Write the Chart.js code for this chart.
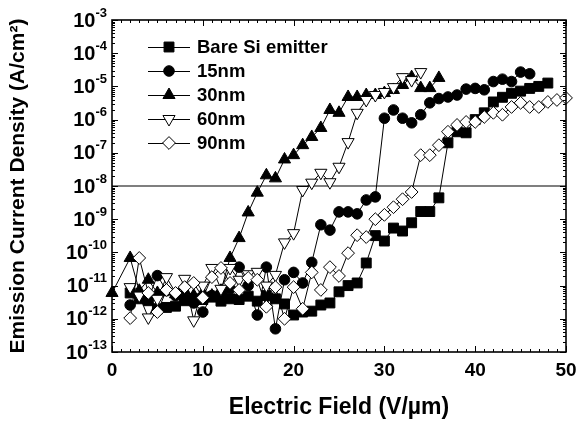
<!DOCTYPE html>
<html><head><meta charset="utf-8">
<script src="https://cdn.jsdelivr.net/npm/chart.js@4/dist/chart.umd.min.js"></script>
<style>html,body{margin:0;padding:0;background:#fff}#wrap{width:584px;height:424px;position:relative}</style>
</head><body><div id="wrap"><canvas id="c" width="584" height="424"></canvas></div>
<script>
const seriesNames = ['Bare Si emitter', '15nm', '30nm', '60nm', '90nm'];

const bareX = [2,3,4,5,6,7,8,9,10,11,12,13,14,15,16,17,18,19,20,21,22,23,24,25,26,27,28,29,30,31,32,33,34,35,36,37,38,39,40,41,42,43,44,45,46,47,48];
const bareY = [6e-12,4e-12,3.5e-12,2e-12,2.2e-12,2.4e-12,3.5e-12,4e-12,3.8e-12,4.5e-12,3.4e-12,4e-12,3.8e-12,4.8e-12,3.4e-12,5e-12,4e-12,2.8e-12,1.3e-12,1.6e-12,1.7e-12,2.6e-12,3e-12,6.5e-12,1e-11,1.2e-11,4.8e-11,3.2e-10,2.2e-10,5.4e-10,4.4e-10,7.8e-10,1.7e-9,1.7e-9,4.4e-9,2e-7,4.3e-7,4e-7,1e-6,1.6e-6,3.4e-6,4.7e-6,6.2e-6,7.2e-6,8.7e-6,1e-5,1.26e-5];

const nm15X = [2,3,4,5,6,7,8,9,10,11,12,13,14,15,16,17,18,19,20,21,22,23,24,25,26,27,28,29,30,31,32,33,34,35,36,37,38,39,40,41,42,43,44,45,46];
const nm15Y = [2.6e-12,5e-12,4e-12,2e-11,7e-12,5e-12,4e-12,3e-12,1.6e-12,5e-12,6e-12,8e-12,3.6e-11,1e-11,1.3e-12,3.6e-11,5e-13,1.5e-11,2.5e-11,1.2e-11,5e-11,6.8e-10,4.7e-10,1.66e-9,1.66e-9,1.45e-9,3.8e-9,4.7e-9,1.1e-6,1.95e-6,1.1e-6,8e-7,1.4e-6,3.2e-6,4.3e-6,4.8e-6,5.5e-6,8.3e-6,8.7e-6,7.9e-6,1.4e-5,1.65e-5,1.4e-5,2.7e-5,2.4e-5];

const nm30X = [0,2,3,4,5,6,7,8,9,10,11,12,13,14,15,16,17,18,19,20,21,22,23,24,25,26,27,28,29,30,31,32,33,34,35,36];
const nm30Y = [6e-12,6.8e-11,7e-12,1.5e-11,6e-12,7e-12,5.5e-12,7e-12,5e-12,6e-12,5e-12,7e-12,6.8e-11,2.7e-10,1.6e-9,6.3e-9,2.1e-8,1.7e-8,6.3e-8,8.5e-8,1.7e-7,3e-7,5.6e-7,1.95e-6,1.6e-6,4.8e-6,4.8e-6,5.5e-6,5.5e-6,6.3e-6,7.8e-6,1.1e-5,1.9e-5,8.9e-6,8.9e-6,1.8e-5];

const nm60X = [2,3,4,5,6,7,8,9,10,11,12,13,14,15,16,17,18,19,20,21,22,23,24,25,26,27,28,29,30,31,32,33,34];
const nm60Y = [9e-12,5e-12,1.1e-12,4e-12,1.8e-11,6e-12,1.6e-11,9e-13,1e-11,3.4e-11,8e-12,3.4e-11,1.5e-11,2.2e-11,2.6e-11,1e-11,2.1e-11,2e-10,3.8e-10,7.6e-9,1.26e-8,2.5e-8,1.3e-8,3.8e-8,2.1e-7,1.6e-6,3.9e-6,5.5e-6,6.8e-6,9.5e-6,1.9e-5,1.55e-5,2.7e-5];

const nm90X = [2,3,4,5,6,7,8,9,10,11,12,13,14,15,16,17,18,19,20,21,22,23,24,25,26,27,28,29,30,31,32,33,34,35,36,37,38,39,40,41,42,43,44,45,46,47,48,49,50];
const nm90Y = [1.05e-12,6.8e-11,6e-12,1.6e-12,7.4e-12,6e-12,9e-12,1.2e-11,4.3e-12,1.8e-11,3.4e-11,1.2e-11,7.4e-12,1.7e-11,1.5e-11,2.3e-12,9e-12,1e-12,9e-12,2e-12,2.5e-11,7.4e-12,3.6e-11,1.95e-11,9.5e-11,3.3e-10,2.9e-10,1e-9,1.35e-9,2.3e-9,4e-9,6.6e-9,8.5e-8,8.5e-8,1.7e-7,4.3e-7,6.9e-7,8.5e-7,8.5e-7,1.2e-6,1.6e-6,1.4e-6,2.4e-6,3.2e-6,2.4e-6,2.4e-6,3.4e-6,3.9e-6,4.5e-6];

const xTickLabels = [0, 10, 20, 30, 40, 50];
const yTickExps = [-3, -4, -5, -6, -7, -8, -9, -10, -11, -12, -13];
const refLineY = 1e-8;

const FONT = "'Liberation Sans', Arial, Helvetica, sans-serif";

function pts(xs, ys) { return xs.map((x, i) => ({ x: x, y: ys[i] })); }

const styles = [
  { pointStyle: 'rect', radius: 7, rotation: 0, fill: '#000' },
  { pointStyle: 'circle', radius: 5.3, rotation: 0, fill: '#000' },
  { pointStyle: 'triangle', radius: 7, rotation: 0, fill: '#000' },
  { pointStyle: 'triangle', radius: 7, rotation: 180, fill: '#fff' },
  { pointStyle: 'rectRot', radius: 6.4, rotation: 0, fill: '#fff' }
];
const seriesData = [pts(bareX, bareY), pts(nm15X, nm15Y), pts(nm30X, nm30Y), pts(nm60X, nm60Y), pts(nm90X, nm90Y)];

const datasets = seriesNames.map((name, i) => ({
  label: name,
  data: seriesData[i],
  showLine: true,
  borderColor: '#000',
  borderWidth: 1,
  pointStyle: styles[i].pointStyle,
  pointRadius: styles[i].radius,
  pointRotation: styles[i].rotation,
  pointBackgroundColor: styles[i].fill,
  pointBorderColor: '#000',
  pointBorderWidth: 1,
  clip: false,
  order: 5 - i
}));
datasets.push({
  label: 'ref',
  data: [{ x: 0, y: refLineY }, { x: 50, y: refLineY }],
  showLine: true,
  borderColor: '#000',
  borderWidth: 1.2,
  pointRadius: 0,
  order: 10
});

function drawMarker(ctx, st, x, y) {
  ctx.save();
  ctx.fillStyle = st.fill;
  ctx.strokeStyle = '#000';
  ctx.lineWidth = 1;
  if (Chart.helpers && Chart.helpers.drawPoint) {
    Chart.helpers.drawPoint(ctx, { pointStyle: st.pointStyle, radius: st.radius, rotation: st.rotation, borderWidth: 1 }, x, y);
  }
  ctx.restore();
}

const framePlugin = {
  id: 'frame',
  afterDraw(chart) {
    const ctx = chart.ctx;
    const a = chart.chartArea;
    const xs = chart.scales.x, ys = chart.scales.y;
    ctx.save();
    ctx.strokeStyle = '#000';
    ctx.lineWidth = 1;
    ctx.beginPath();
    for (let v = 0; v <= 50; v++) {
      const px = Math.round(xs.getPixelForValue(v)) + 0.5;
      const len = (v % 10 === 0) ? 6 : 3;
      ctx.moveTo(px, a.bottom); ctx.lineTo(px, a.bottom - len);
      ctx.moveTo(px, a.top); ctx.lineTo(px, a.top + len);
    }
    for (let e = -13; e <= -3; e++) {
      for (let m = 1; m <= 9; m++) {
        if (e === -3 && m > 1) break;
        const py = Math.round(ys.getPixelForValue(m * Math.pow(10, e))) + 0.5;
        const len = (m === 1) ? 6 : 3;
        ctx.moveTo(a.left, py); ctx.lineTo(a.left + len, py);
        ctx.moveTo(a.right, py); ctx.lineTo(a.right - len, py);
      }
    }
    ctx.stroke();
    ctx.lineWidth = 1.6;
    ctx.strokeRect(a.left, a.top, a.right - a.left, a.bottom - a.top);
    ctx.fillStyle = '#000';
    ctx.textBaseline = 'middle';
    const rightEdge = a.left - 5;
    yTickExps.forEach(e => {
      const py = ys.getPixelForValue(Math.pow(10, e));
      const expStr = String(e);
      ctx.font = 'bold 13px ' + FONT;
      ctx.textAlign = 'right';
      const ew = ctx.measureText(expStr).width;
      ctx.fillText(expStr, rightEdge, py - 7);
      ctx.font = 'bold 20px ' + FONT;
      ctx.fillText('10', rightEdge - ew, py + 1);
    });
    const lx0 = 148, lx1 = 190, mx = 169, tx = 197;
    const rows = [47, 71, 95, 119, 143];
    seriesNames.forEach((name, i) => {
      const y = rows[i];
      ctx.lineWidth = 1;
      ctx.strokeStyle = '#000';
      ctx.beginPath();
      ctx.moveTo(lx0, y + 0.5); ctx.lineTo(lx1, y + 0.5);
      ctx.stroke();
      drawMarker(ctx, styles[i], mx, y);
      ctx.fillStyle = '#000';
      ctx.font = 'bold 18.5px ' + FONT;
      ctx.textAlign = 'left';
      ctx.textBaseline = 'middle';
      ctx.fillText(name, tx, y + 1);
    });
    ctx.restore();
  }
};

new Chart(document.getElementById('c'), {
  type: 'scatter',
  data: { datasets: datasets },
  options: {
    responsive: false,
    devicePixelRatio: 1,
    animation: false,
    events: [],
    layout: { padding: { top: 20, right: 18, left: 0, bottom: 0 } },
    plugins: { legend: { display: false }, tooltip: { enabled: false } },
    scales: {
      x: {
        type: 'linear', min: 0, max: 50,
        grid: { display: false, drawTicks: false },
        border: { display: false },
        ticks: {
          stepSize: 10, padding: 7, maxRotation: 0, color: '#000',
          font: { family: FONT, weight: 'bold', size: 19 },
          callback: v => xTickLabels.includes(v) ? String(v) : ''
        },
        title: {
          display: true, text: 'Electric Field (V/µm)', color: '#000',
          font: { family: FONT, weight: 'bold', size: 23 },
          padding: { top: 0, bottom: 3 }
        },
        afterFit: s => { s.height = 72; }
      },
      y: {
        type: 'logarithmic', min: 1e-13, max: 1e-3,
        grid: { display: false, drawTicks: false },
        border: { display: false },
        ticks: { display: false },
        title: {
          display: true, text: 'Emission Current Density (A/cm²)', color: '#000',
          font: { family: FONT, weight: 'bold', size: 21 },
          padding: { top: 6, bottom: 0 }
        },
        afterFit: s => { s.width = 112; }
      }
    }
  },
  plugins: [framePlugin]
});
</script>
</body></html>
